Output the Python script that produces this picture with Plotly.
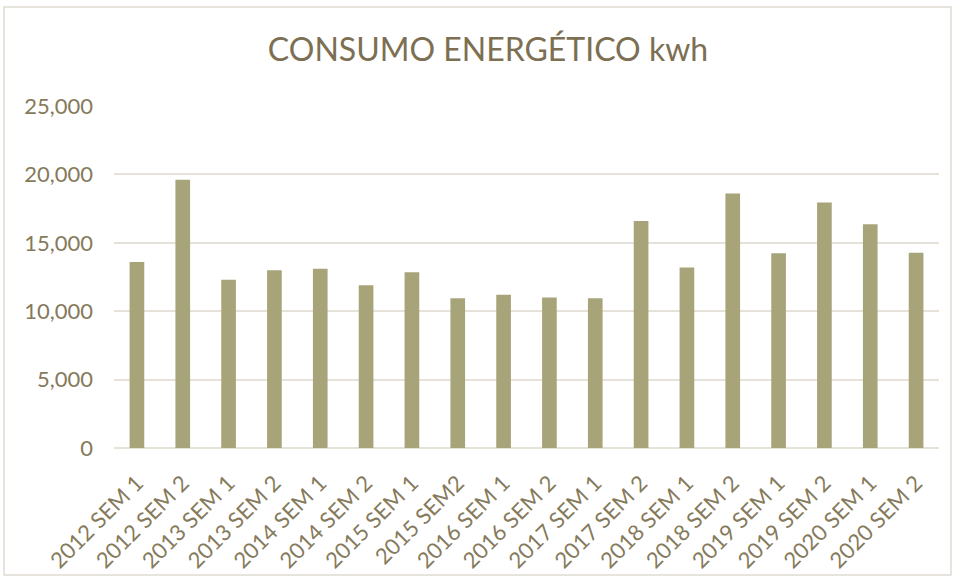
import plotly.graph_objects as go

categories = ["2012 SEM 1", "2012 SEM 2", "2013 SEM 1", "2013 SEM 2", "2014 SEM 1",
              "2014 SEM 2", "2015 SEM 1", "2015 SEM2", "2016 SEM 1", "2016 SEM 2",
              "2017 SEM 1", "2017 SEM 2", "2018 SEM 1", "2018 SEM 2", "2019 SEM 1",
              "2019 SEM 2", "2020 SEM 1", "2020 SEM 2"]
values = [13600, 19600, 12300, 13000, 13100, 11900, 12850, 10950, 11200, 11000,
          10950, 16600, 13200, 18600, 14230, 17950, 16350, 14270]
y_ticks = [0, 5000, 10000, 15000, 20000, 25000]
title_text = "CONSUMO ENERGÉTICO kwh"

TEXT = "#857A5B"
BAR = "#A8A47A"
GRID = "#E6E2D9"
FONT = "Lato"

W, H = 955, 578
ml, mr, mt, mb = 114, 16, 106, 130
pw, ph = W - ml - mr, H - mt - mb

fig = go.Figure(go.Bar(x=categories, y=values, marker=dict(color=BAR, line=dict(width=0))))

fig.update_layout(
    width=W, height=H,
    margin=dict(l=ml, r=mr, t=mt, b=mb, autoexpand=False),
    paper_bgcolor="white", plot_bgcolor="white",
    bargap=0.68,
    showlegend=False,
    title=dict(text=title_text, x=488 / W, xref="container", xanchor="center",
               y=1 - 50 / H, yref="container", yanchor="middle",
               font=dict(family=FONT, size=32, color="#7C6F52")),
    font=dict(family=FONT, color=TEXT),
)
fig.update_xaxes(tickangle=-45, tickfont=dict(size=22, color=TEXT, family=FONT),
                 showgrid=False, showline=False, ticks="", ticklabelstandoff=17)
fig.update_yaxes(range=[0, 25000], tickvals=y_ticks, tickformat=",d",
                 tickfont=dict(size=22, color=TEXT, family=FONT),
                 showgrid=True, gridcolor=GRID, gridwidth=1.5,
                 zeroline=True, zerolinecolor=GRID, zerolinewidth=1.5,
                 showline=False, ticks="", ticklabelstandoff=20)

# chart border
fig.add_shape(type="rect", xref="paper", yref="paper",
              x0=(4 - ml) / pw, x1=(951 - ml) / pw,
              y0=(H - mb - 575) / ph, y1=(H - mb - 7) / ph,
              line=dict(color="#DEDBD2", width=1.5), fillcolor="rgba(0,0,0,0)", layer="below")

fig.write_html("out.html", config={"displayModeBar": False},
               post_script="document.body.style.margin='0';document.body.style.overflow='hidden';")
